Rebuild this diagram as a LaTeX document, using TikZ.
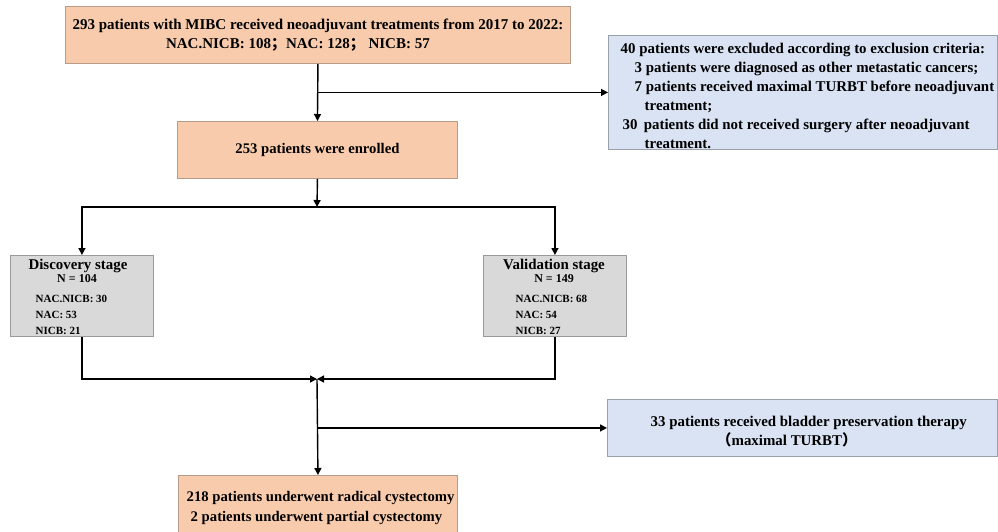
\documentclass[tikz,border=0pt]{standalone}
\usepackage{fontspec}
\setmainfont{Liberation Serif}
\newfontfamily\cjk{Noto Sans CJK SC}
\usetikzlibrary{arrows.meta}

\definecolor{peach}{HTML}{F8CBAD}
\definecolor{peachline}{HTML}{B89C8A}
\definecolor{lightblue}{HTML}{DAE3F3}
\definecolor{blueline}{HTML}{9AA0AA}
\definecolor{lightgrey}{HTML}{D9D9D9}
\definecolor{greyline}{HTML}{9A9A9A}

\tikzset{
  peachbox/.style={draw=peachline, fill=peach, line width=0.9pt, anchor=north west, inner sep=0pt, align=center},
  bluebox/.style={draw=blueline, fill=lightblue, line width=0.9pt, anchor=north west, inner sep=0pt},
  greybox/.style={draw=greyline, fill=lightgrey, line width=0.9pt, anchor=north west, inner sep=0pt},
  bluetext/.style={font=\bfseries\fontsize{14.9}{19}\selectfont, inner sep=0pt, anchor=north west, align=left},
  smalltext/.style={font=\bfseries\fontsize{11}{16}\selectfont, inner sep=0pt, align=left},
}

\begin{document}
\begin{tikzpicture}
  [x=1pt, y=-1pt, line width=1.4pt, >={Triangle[length=7pt,width=7pt]},
   font=\bfseries\fontsize{14.7}{19}\selectfont]
  \useasboundingbox (0,0) rectangle (998,532);
  \clip (0,0) rectangle (998,532);

  \node[peachbox, minimum width=505pt, minimum height=57pt, font=\bfseries\fontsize{15}{19}\selectfont] (total) at (65,6)
    {293 patients with MIBC received neoadjuvant treatments from 2017 to 2022:\\
     NAC.NICB: 108{\cjk；}NAC: 128{\cjk；}\ NICB: 57\hspace*{40pt}};
  \node[bluebox, minimum width=389pt, minimum height=114pt] (excl) at (608,35) {};
  \node[bluetext] (excltext) at (620,42)
    {40 patients were excluded according to exclusion criteria:\\
     \hspace*{14pt}3 patients were diagnosed as other metastatic cancers;\\
     \hspace*{14pt}7 patients received maximal TURBT before neoadjuvant\\
     \hspace*{24pt}treatment;\\
     \hspace*{2pt}30\ \,patients did not received surgery after neoadjuvant\\
     \hspace*{24pt}treatment.};
  \node[peachbox, minimum width=280pt, minimum height=57pt] (enrol) at (177,121)
    {253 patients were enrolled};

  \draw[->] (total.south) -- (enrol.north);
  \draw[->] (total.south |- excl.west) -- (excl.west);

  % two stages
  \node[greybox, minimum width=143pt, minimum height=81pt] (disc) at (10,255) {};
  \node[font=\bfseries\fontsize{14.9}{14}\selectfont, inner sep=0pt] (disctitle) at (78,266) {Discovery stage};
  \node[font=\bfseries\fontsize{12}{11}\selectfont, inner sep=0pt] (discn) at (77,279) {N = 104};
  \node[smalltext, anchor=north west] (disclist) at (35,294) {NAC.NICB: 30\\NAC: 53\\NICB: 21};

  \node[greybox, minimum width=143pt, minimum height=81pt] (valid) at (483,255) {};
  \node[font=\bfseries\fontsize{14.9}{14}\selectfont, inner sep=0pt] (validtitle) at (554,266) {Validation stage};
  \node[font=\bfseries\fontsize{12}{11}\selectfont, inner sep=0pt] (validn) at (554,279) {N = 149};
  \node[smalltext, anchor=north west] (validlist) at (515,294) {NAC.NICB: 68\\NAC: 54\\NICB: 27};

  \coordinate (fork) at (317,207);
  \draw[->] (enrol.south) -- (fork);
  \draw[->] (fork) -| (disc.north);
  \draw[->] (fork) -| (valid.north);

  % merge and outcome
  \node[bluebox, minimum width=390pt, minimum height=57pt] (blad) at (607,399) {};
  \node[bluetext] (bladtext) at (650,415)
    {33 patients received bladder preservation therapy\\
     \hspace*{66pt}{\cjk（}maximal TURBT{\cjk）}};
  \node[peachbox, minimum width=279pt, minimum height=70pt] (final) at (178,475) {};
  \node[inner sep=0pt, anchor=north west, align=left, font=\bfseries\fontsize{14.7}{20}\selectfont] (finaltext) at (186,491)
    {218 patients underwent radical cystectomy\\
     \hspace*{4pt}2 patients underwent partial cystectomy};

  \coordinate (merge) at (317,379);
  \draw[->] (disc.south) |- (merge);
  \draw[->] (valid.south) |- (merge);
  \draw[->] (merge) -- (final.north);
  \draw[->] (merge |- blad.west) -- (blad.west);

\end{tikzpicture}
\end{document}
